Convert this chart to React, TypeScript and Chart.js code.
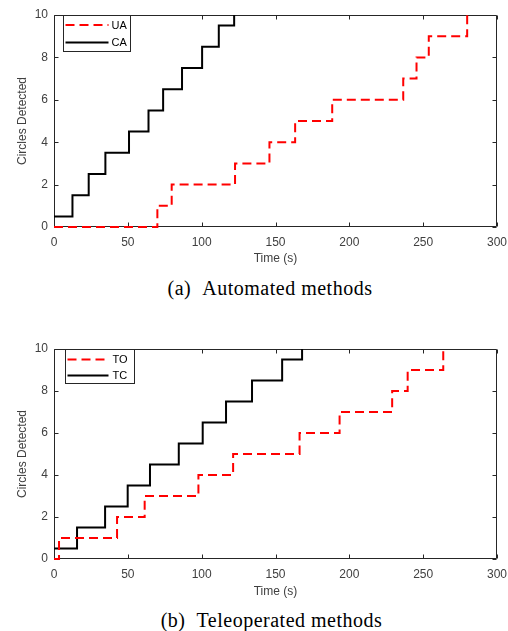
import React, { useEffect, useRef } from "react";
import { Chart, registerables } from "chart.js";

Chart.register(...registerables);

// ---------- data ----------
const xTickStep = 50;
const yTickStep = 2;
const xMax = 300;
const yMax = 10;

const uaTimes = [0, 70, 79.7, 122.6, 145.9, 163.3, 188.4, 236.5, 245.5, 253.8, 279.8];
const uaCounts = [0, 1, 2, 3, 4, 5, 6, 7, 8, 9, 10];
const caTimes = [0, 12.5, 23.5, 34.8, 50.8, 64, 73.9, 86.7, 100.3, 111.6, 122];
const caCounts = [0.5, 1.5, 2.5, 3.5, 4.5, 5.5, 6.5, 7.5, 8.5, 9.5, 10];

const toTimes = [0, 3.4, 42.7, 61.4, 97.8, 121.3, 166.3, 193.4, 229, 239.5, 263.6];
const toCounts = [0, 1, 2, 3, 4, 5, 6, 7, 8, 9, 10];
const tcTimes = [0, 15.6, 34.6, 49.9, 65, 84.5, 100.7, 116.5, 134.1, 154.5, 168];
const tcCounts = [0.5, 1.5, 2.5, 3.5, 4.5, 5.5, 6.5, 7.5, 8.5, 9.5, 10];

const xTitle = "Time (s)";
const yTitle = "Circles Detected";
const captionATag = "(a)";
const captionAText = "Automated methods";
const captionBTag = "(b)";
const captionBText = "Teleoperated methods";

// ---------- plugin: MATLAB-like box, inward ticks, legend ----------
const matlabAxes = {
  id: "matlabAxes",
  beforeDatasetsDraw(chart: any) {
    const { ctx, chartArea, scales } = chart;
    const L = Math.round(chartArea.left) + 0.5;
    const R = Math.round(chartArea.right) - 0.5;
    const T = Math.round(chartArea.top) + 0.5;
    const B = Math.round(chartArea.bottom) - 0.5;
    const tk = 4;
    ctx.save();
    ctx.strokeStyle = "#262626";
    ctx.lineWidth = 1;
    ctx.setLineDash([]);
    ctx.beginPath();
    ctx.rect(L, T, R - L, B - T);
    scales.x.ticks.forEach((t: any) => {
      const px = Math.round(scales.x.getPixelForValue(t.value)) + 0.5;
      ctx.moveTo(px, B);
      ctx.lineTo(px, B - tk);
      ctx.moveTo(px, T);
      ctx.lineTo(px, T + tk);
    });
    scales.y.ticks.forEach((t: any) => {
      const py = Math.round(scales.y.getPixelForValue(t.value)) + 0.5;
      ctx.moveTo(L, py);
      ctx.lineTo(L + tk, py);
      ctx.moveTo(R, py);
      ctx.lineTo(R - tk, py);
    });
    ctx.stroke();
    ctx.restore();
  },
  afterDraw(chart: any, _args: any, opts: any) {
    const { ctx, chartArea } = chart;
    const T = Math.round(chartArea.top) + 0.5;
    ctx.save();
    ctx.strokeStyle = "#262626";
    ctx.lineWidth = 1;
    ctx.setLineDash([]);
    const bx = Math.round(chartArea.left + opts.offsetX) + 0.5;
    const by = T;
    ctx.fillStyle = "#ffffff";
    ctx.fillRect(bx, by, opts.width, opts.height);
    ctx.strokeRect(bx, by, opts.width, opts.height);
    chart.data.datasets.forEach((ds: any, i: number) => {
      const cy = by + opts.rows[i];
      ctx.save();
      ctx.strokeStyle = ds.borderColor;
      ctx.lineWidth = ds.borderWidth;
      ctx.setLineDash(ds.borderDash || []);
      ctx.beginPath();
      ctx.moveTo(bx + opts.lineStart, cy);
      ctx.lineTo(bx + opts.lineEnd, cy);
      ctx.stroke();
      ctx.restore();
      ctx.fillStyle = "#000000";
      ctx.font = '11px "Liberation Sans", Arial, sans-serif';
      ctx.textBaseline = "middle";
      ctx.textAlign = "left";
      ctx.fillText(ds.label, bx + opts.textX, cy + 0.5);
    });
    ctx.restore();
  },
};

const axisFont = { family: '"Liberation Sans", Arial, sans-serif', size: 12 };
const tickColor = "#404040";

type PanelProps = {
  dashedLabel: string;
  dashedX: number[];
  dashedY: number[];
  solidLabel: string;
  solidX: number[];
  solidY: number[];
  xAxisHeight: number;
  xTitlePad: number;
  legend: any;
};

function Panel(p: PanelProps) {
  const ref = useRef<HTMLCanvasElement | null>(null);
  useEffect(() => {
    if (!ref.current) return;
    const chart = new Chart(ref.current, {
      type: "line",
      data: {
        datasets: [
          {
            label: p.dashedLabel,
            data: p.dashedX.map((x, i) => ({ x, y: p.dashedY[i] })),
            borderColor: "#ff0000",
            borderWidth: 2,
            borderDash: [9, 5],
            pointRadius: 0,
            stepped: "before",
            fill: false,
            clip: false,
          },
          {
            label: p.solidLabel,
            data: p.solidX.map((x, i) => ({ x, y: p.solidY[i] })),
            borderColor: "#000000",
            borderWidth: 2,
            pointRadius: 0,
            stepped: "before",
            fill: false,
            clip: false,
          },
        ],
      },
      options: {
        animation: false,
        responsive: false,
        events: [],
        layout: { padding: { top: 15, right: 11, left: 0, bottom: 0 } },
        scales: {
          x: {
            type: "linear",
            min: 0,
            max: xMax,
            grid: { display: false, drawTicks: false },
            border: { display: false },
            ticks: { stepSize: xTickStep, color: tickColor, font: axisFont, padding: 8, maxRotation: 0 },
            title: { display: true, text: xTitle, color: tickColor, font: axisFont, padding: { top: 0, bottom: p.xTitlePad } },
            afterFit: (s: any) => {
              s.height = p.xAxisHeight;
              s.paddingLeft = 0;
              s.paddingRight = 0;
            },
          },
          y: {
            type: "linear",
            min: 0,
            max: yMax,
            grid: { display: false, drawTicks: false },
            border: { display: false },
            ticks: { stepSize: yTickStep, color: tickColor, font: axisFont, padding: 6 },
            title: { display: true, text: yTitle, color: tickColor, font: axisFont, padding: { top: 15, bottom: 0 } },
            afterFit: (s: any) => {
              s.width = 54;
              s.paddingTop = 0;
              s.paddingBottom = 0;
            },
          },
        },
        plugins: {
          legend: { display: false },
          tooltip: { enabled: false },
          matlabAxes: p.legend,
        } as any,
      },
      plugins: [matlabAxes],
    });
    return () => chart.destroy();
  }, []);
  return <canvas ref={ref} width={508} height={270} style={{ display: "block" }} />;
}

const captionStyle: React.CSSProperties = {
  position: "absolute",
  transform: "translateX(-50%)",
  whiteSpace: "nowrap",
  fontFamily: '"Liberation Serif", "Times New Roman", serif',
  fontSize: 20,
  letterSpacing: "0.5px",
  lineHeight: "20px",
  color: "#000",
};

export default function App() {
  return (
    <div style={{ position: "absolute", left: 0, top: 0, width: 508, height: 631, background: "#fff", overflow: "hidden" }}>
      <div style={{ position: "absolute", left: 0, top: 0 }}>
        <Panel
          dashedLabel="UA"
          dashedX={uaTimes}
          dashedY={uaCounts}
          solidLabel="CA"
          solidX={caTimes}
          solidY={caCounts}
          xAxisHeight={43}
          xTitlePad={4}
          legend={{ offsetX: 9, width: 67, height: 36, rows: [9.5, 27], lineStart: 2, lineEnd: 45, textX: 48 }}
        />
      </div>
      <div style={{ ...captionStyle, left: 270, top: 278 }}>
        <span>{captionATag}</span>
        <span style={{ marginLeft: 11 }}>{captionAText}</span>
      </div>
      <div style={{ position: "absolute", left: 0, top: 334 }}>
        <Panel
          dashedLabel="TO"
          dashedX={toTimes}
          dashedY={toCounts}
          solidLabel="TC"
          solidX={tcTimes}
          solidY={tcCounts}
          xAxisHeight={45}
          xTitlePad={5}
          legend={{ offsetX: 11, width: 69, height: 34, rows: [10, 26], lineStart: 2, lineEnd: 43, textX: 47 }}
        />
      </div>
      <div style={{ ...captionStyle, left: 271.5, top: 610 }}>
        <span>{captionBTag}</span>
        <span style={{ marginLeft: 11 }}>{captionBText}</span>
      </div>
    </div>
  );
}
